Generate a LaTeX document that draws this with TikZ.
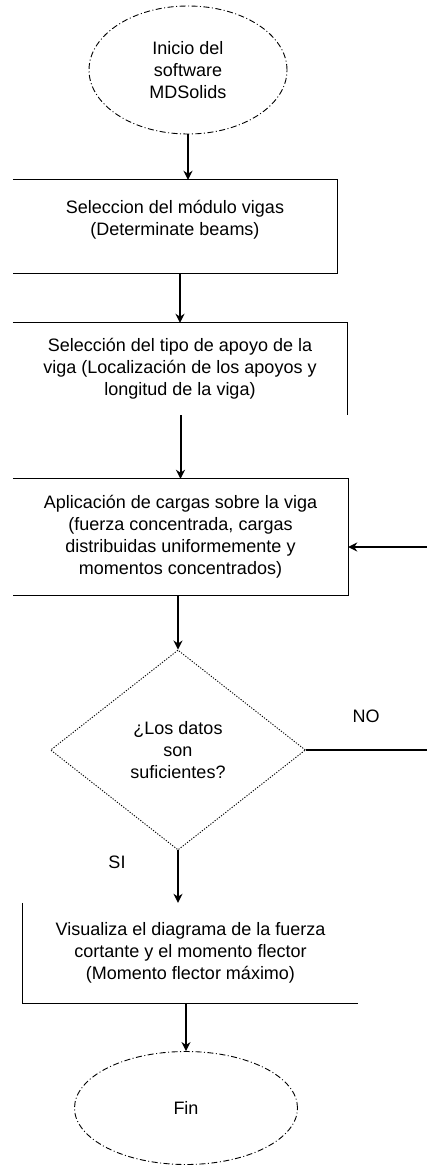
\documentclass[tikz,border=0pt]{standalone}
\usepackage{fontspec}
\setmainfont{Liberation Sans}
\usetikzlibrary{arrows,arrows.meta,shapes.geometric}

\begin{document}
\begin{tikzpicture}[x=1pt,y=-1pt,
  every node/.style={font=\fontsize{18}{22}\selectfont},
  term node/.style={ellipse,draw,line width=0.9pt,dash pattern=on 6pt off 2.5pt on 1pt off 2.5pt,inner sep=0pt,align=center},
  proc node/.style={rectangle,inner sep=0pt,align=center},
  test node/.style={diamond,draw,line width=0.9pt,dash pattern=on 1.2pt off 1.5pt,inner sep=0pt,align=center},
  flow/.style={-{Stealth[length=9pt,width=9pt]},line width=2pt},
  frame/.style={line width=1.3pt}]
  \useasboundingbox (0,0) rectangle (427,1175);
  \node[term node,minimum width=198pt,minimum height=128pt] (start) at (188,70) {Inicio del\\software\\MDSolids};
  \node[proc node,minimum width=324pt,minimum height=93pt,text height=55pt,text depth=38pt] (b1) at (175,226.5) {Seleccion del módulo vigas\\(Determinate beams)};
  \node[proc node,minimum width=334pt,minimum height=92pt] (b2) at (180,369) {Selección del tipo de apoyo de la\\viga (Localización de los apoyos y\\longitud de la viga)};
  \node[proc node,minimum width=335pt,minimum height=116pt] (b3) at (180.5,537) {Aplicación de cargas sobre la viga\\(fuerza concentrada, cargas\\distribuidas uniformemente y\\momentos concentrados)};
  \node[test node,minimum width=255pt,minimum height=200pt] (q) at (178,750) {¿Los datos\\son\\suficientes?};
  \node[proc node,minimum width=335pt,minimum height=100pt] (b4) at (190.5,953) {Visualiza el diagrama de la fuerza\\cortante y el momento flector\\(Momento flector máximo)};
  \node[term node,minimum width=223pt,minimum height=113pt] (end) at (186,1108) {Fin};
  \node (no) at (366,716) {NO};
  \node (si) at (117,862) {SI};
  \coordinate (back) at (440,547);

  % box sides
  \draw[frame] (b1.north west) -- (b1.north east) -- (b1.south east) -- (b1.south west);
  \draw[frame] (b2.north west) -- (b2.north east) -- (b2.south east);
  \draw[frame] (b3.north west) -- (b3.north east) -- (b3.south east) -- (b3.south west);
  \draw[frame] (b4.north west) -- (b4.south west) -- (b4.south east);

  % flow
  \draw[flow] (start.south) -- (start.south |- b1.north);
  \draw[flow] (b1.south -| b2.north) -- (b2.north);
  \draw[flow] (b2.south -| b3.north) -- (b3.north);
  \draw[flow] (b3.south -| q.north) -- (q.north);
  \draw[flow] (q.south) -- (q.south |- b4.north);
  \draw[flow] (b4.south -| end.north) -- (end.north);
  \draw[frame] (q.east) -| (back);
  \draw[flow] (back) -- (back -| b3.east);
\end{tikzpicture}
\end{document}
